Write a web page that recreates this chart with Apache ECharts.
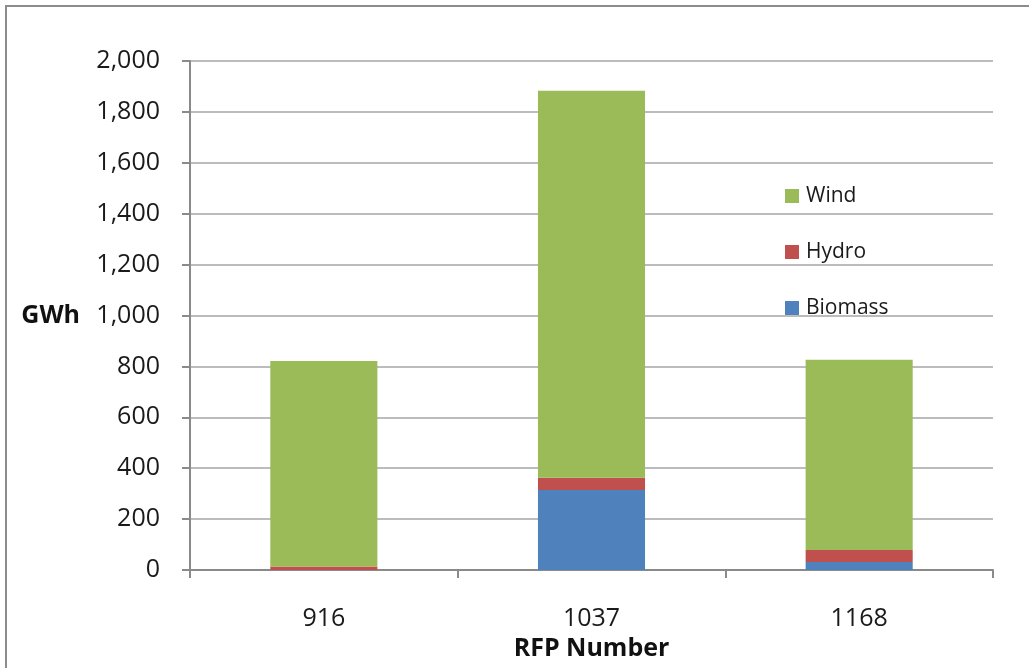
<!DOCTYPE html>
<html>
<head>
<meta charset="utf-8">
<script src="https://cdn.jsdelivr.net/npm/echarts@6/dist/echarts.min.js"></script>
<style>
  html, body { margin: 0; padding: 0; background: #fff; }
  #frame { position: absolute; left: 5px; top: 5px; width: 1040px; height: 680px;
           border: 2px solid #8c8c8c; box-sizing: border-box; }
  #chart { position: absolute; left: 0; top: 0; width: 1029px; height: 668px; }
</style>
</head>
<body>
<div id="frame"></div>
<div id="chart"></div>
<script>
// RFP rounds and contracted energy by resource type (GWh)
const categories = ['916', '1037', '1168'];
const biomass = [0, 314, 31];
const hydro = [14, 48, 48];
const wind = [807, 1521, 747];
const yTicks = { min: 0, max: 2000, interval: 200 };

const font = '"Open Sans", Lato, sans-serif';
const chart = echarts.init(document.getElementById('chart'), null, { renderer: 'canvas' });

const barSeries = (name, data, color) => ({
  name, type: 'bar', stack: 'total', data, barWidth: '40%',
  itemStyle: { color }, emphasis: { disabled: true }
});

chart.setOption({
  animation: false,
  grid: { left: 190, right: 36, top: 61, bottom: 98, outerBoundsMode: 'none', containLabel: false },
  legend: {
    orient: 'vertical', left: 780, top: 180, itemGap: 34,
    itemWidth: 14, itemHeight: 14, icon: 'rect',
    data: ['Wind', 'Hydro', 'Biomass'],
    textStyle: { fontFamily: font, fontSize: 21, lineHeight: 22, color: '#1a1a1a', padding: [0, 0, 0, 2] }
  },
  xAxis: {
    type: 'category', data: categories,
    name: 'RFP Number', nameLocation: 'middle', nameGap: 66,
    nameTextStyle: { fontFamily: font, fontSize: 25, fontWeight: 'bold', color: '#111' },
    axisLine: { lineStyle: { color: '#8a8a8a', width: 2 } },
    axisTick: { show: true, length: 8, lineStyle: { color: '#8a8a8a', width: 2 } },
    axisLabel: { fontFamily: font, fontSize: 25, color: '#1a1a1a', margin: 36 }
  },
  yAxis: {
    type: 'value', min: yTicks.min, max: yTicks.max, interval: yTicks.interval,
    name: 'GWh', nameLocation: 'middle', nameRotate: 0, nameGap: 110,
    nameTextStyle: { fontFamily: font, fontSize: 25, fontWeight: 'bold', color: '#111' },
    axisLine: { show: true, lineStyle: { color: '#8a8a8a', width: 2 } },
    axisTick: { show: true, length: 8, lineStyle: { color: '#8a8a8a', width: 2 } },
    splitLine: { lineStyle: { color: '#a6a6a6', width: 1.5 } },
    axisLabel: {
      fontFamily: font, fontSize: 25, color: '#1a1a1a', margin: 30,
      formatter: v => v.toLocaleString('en-US')
    }
  },
  series: [
    barSeries('Biomass', biomass, '#4F81BD'),
    barSeries('Hydro', hydro, '#C0504D'),
    barSeries('Wind', wind, '#9BBB59')
  ]
});
</script>
</body>
</html>
